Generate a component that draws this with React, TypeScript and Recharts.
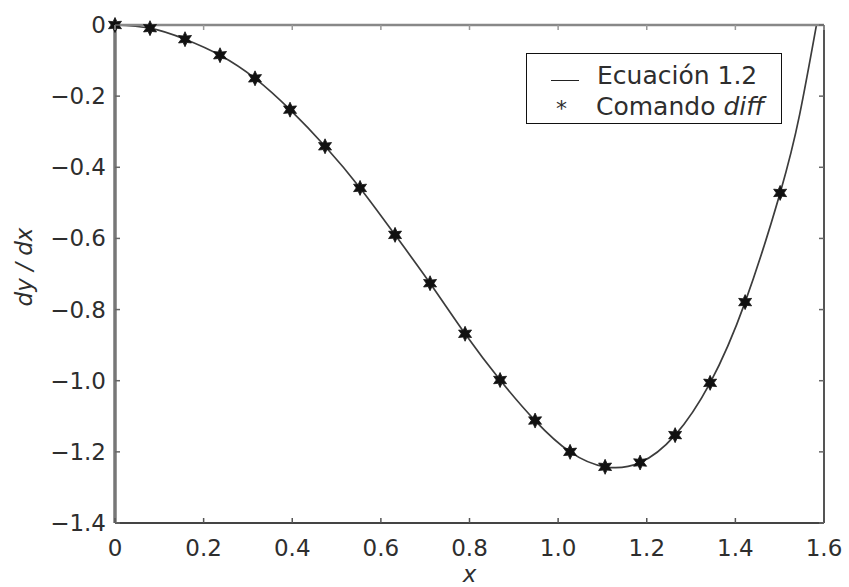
import { ComposedChart, Line, XAxis, YAxis } from 'recharts';

// marker samples (Comando diff)
const diffX = [0, 0.079, 0.158, 0.237, 0.316, 0.395, 0.474, 0.553, 0.632, 0.711, 0.79, 0.869, 0.948, 1.027, 1.106, 1.185, 1.264, 1.343, 1.422, 1.501];
const diffY = [0, -0.009, -0.04, -0.085, -0.15, -0.238, -0.341, -0.458, -0.59, -0.726, -0.868, -0.998, -1.112, -1.2, -1.242, -1.23, -1.153, -1.006, -0.779, -0.472];

// curve (Ecuación 1.2)
const curveX = [0, 0.079, 0.158, 0.237, 0.316, 0.395, 0.474, 0.553, 0.632, 0.711, 0.79, 0.869, 0.948, 1.027, 1.106, 1.185, 1.264, 1.343, 1.422, 1.501, 1.545, 1.583];
const curveY = [0, -0.009, -0.04, -0.085, -0.15, -0.238, -0.341, -0.458, -0.59, -0.726, -0.868, -0.998, -1.112, -1.2, -1.242, -1.23, -1.153, -1.006, -0.779, -0.472, -0.252, 0];

const xTicks = [0, 0.2, 0.4, 0.6, 0.8, 1.0, 1.2, 1.4, 1.6];
const yTicks = [0, -0.2, -0.4, -0.6, -0.8, -1.0, -1.2, -1.4];

const seriesNames = ['Ecuación 1.2', 'Comando'];

const curveData = curveX.map((x, i) => ({ x, y: curveY[i] }));
const diffData = diffX.map((x, i) => ({ x, y: diffY[i] }));

const FONT = '"DejaVu Sans", sans-serif';
const TXT = '#2e2e2e';

const fmtX = (v: number) => (v === 0 ? '0' : v.toFixed(1));
const fmtY = (v: number) => (v === 0 ? '0' : '\u2212' + Math.abs(v).toFixed(1));

const LeftTick = ({ x, y, payload }: any) => (
  <g>
    <line x1={x} x2={x + 5} y1={y} y2={y} stroke="#666" strokeWidth={1.5} />
    <text x={x - 9} y={y + 8} textAnchor="end" fontFamily={FONT} fontSize={23} fill={TXT}>
      {fmtY(payload.value)}
    </text>
  </g>
);

const BottomTick = ({ x, y, payload }: any) => (
  <g>
    <line x1={x} x2={x} y1={y} y2={y - 5} stroke="#555" strokeWidth={1.5} />
    <text x={x} y={y + 33} textAnchor="middle" fontFamily={FONT} fontSize={23} fill={TXT}>
      {fmtX(payload.value)}
    </text>
  </g>
);

const TopTick = ({ x, y }: any) => <line x1={x} x2={x} y1={y} y2={y + 5} stroke="#999" strokeWidth={1.5} />;
const RightTick = ({ x, y }: any) => <line x1={x} x2={x - 5} y1={y} y2={y} stroke="#666" strokeWidth={1.5} />;

const Star = ({ cx, cy }: any) => {
  if (cx == null || cy == null) return null;
  const pts: string[] = [];
  for (let k = 0; k < 12; k++) {
    const r = k % 2 === 0 ? 7.5 : 3.8;
    const a = (Math.PI / 6) * k - Math.PI / 2;
    pts.push(`${cx + r * Math.cos(a)},${cy + r * Math.sin(a)}`);
  }
  return <polygon points={pts.join(' ')} fill="#111" stroke="#111" strokeWidth={0.8} />;
};

const YLabel = ({ viewBox }: any) => {
  const cy = viewBox.y + viewBox.height / 2 - 7;
  return (
    <text
      x={24}
      y={cy}
      transform={`rotate(-90, 24, ${cy})`}
      textAnchor="middle"
      dominantBaseline="central"
      fontFamily={FONT}
      fontStyle="italic"
      fontSize={23}
      fill={TXT}
    >
      dy / dx
    </text>
  );
};

const XLabel = ({ viewBox }: any) => (
  <text
    x={viewBox.x + viewBox.width / 2}
    y={582}
    textAnchor="middle"
    fontFamily={FONT}
    fontStyle="italic"
    fontSize={23}
    fill={TXT}
  >
    x
  </text>
);

const LegendBox = () => (
  <div
    style={{
      position: 'absolute',
      left: 526,
      top: 53,
      width: 254,
      height: 69,
      border: '1.6px solid #111',
      background: '#fff',
      fontFamily: FONT,
      fontSize: 25,
      color: TXT,
    }}
  >
    <div style={{ position: 'absolute', left: 24, top: 26, width: 28, height: 0, borderTop: '1.6px solid #222' }} />
    <div style={{ position: 'absolute', left: 70, top: 7, lineHeight: '30px', whiteSpace: 'nowrap' }}>{seriesNames[0]}</div>
    <div style={{ position: 'absolute', left: 29, top: 40, lineHeight: '30px', fontSize: 22 }}>*</div>
    <div style={{ position: 'absolute', left: 69, top: 38, lineHeight: '30px', whiteSpace: 'nowrap' }}>
      {seriesNames[1]} <i>diff</i>
    </div>
  </div>
);

export default function App() {
  return (
    <div style={{ position: 'absolute', left: 0, top: 0, width: 849, height: 587, background: '#fff' }}>
      <ComposedChart width={849} height={587} margin={{ top: 24, right: 24, left: 55, bottom: 34 }}>
        <XAxis
          dataKey="x"
          type="number"
          domain={[0, 1.6]}
          ticks={xTicks}
          height={30}
          tickSize={0}
          tickMargin={0}
          tickLine={false}
          tick={<BottomTick />}
          axisLine={{ stroke: '#444', strokeWidth: 2 }}
          label={<XLabel />}
        />
        <XAxis
          xAxisId="top"
          orientation="top"
          dataKey="x"
          type="number"
          domain={[0, 1.6]}
          ticks={xTicks}
          height={1}
          tickSize={0}
          tickMargin={0}
          tickLine={false}
          tick={<TopTick />}
          axisLine={{ stroke: '#888', strokeWidth: 2.5 }}
        />
        <YAxis
          dataKey="y"
          type="number"
          domain={[-1.4, 0]}
          ticks={yTicks}
          width={60}
          tickSize={0}
          tickMargin={0}
          tickLine={false}
          tick={<LeftTick />}
          axisLine={{ stroke: '#777', strokeWidth: 3.5 }}
          label={<YLabel />}
        />
        <YAxis
          yAxisId="right"
          orientation="right"
          dataKey="y"
          type="number"
          domain={[-1.4, 0]}
          ticks={yTicks}
          width={1}
          tickSize={0}
          tickMargin={0}
          tickLine={false}
          tick={<RightTick />}
          axisLine={{ stroke: '#555', strokeWidth: 2 }}
        />
        <Line
          data={curveData}
          dataKey="y"
          type="natural"
          stroke="#3c3c3c"
          strokeWidth={1.7}
          dot={false}
          activeDot={false}
          isAnimationActive={false}
        />
        <Line
          data={curveData}
          xAxisId="top"
          yAxisId="right"
          dataKey="y"
          stroke="none"
          dot={false}
          activeDot={false}
          legendType="none"
          isAnimationActive={false}
        />
        <Line
          data={diffData}
          dataKey="y"
          stroke="none"
          dot={<Star />}
          activeDot={false}
          isAnimationActive={false}
        />
      </ComposedChart>
      <LegendBox />
    </div>
  );
}
